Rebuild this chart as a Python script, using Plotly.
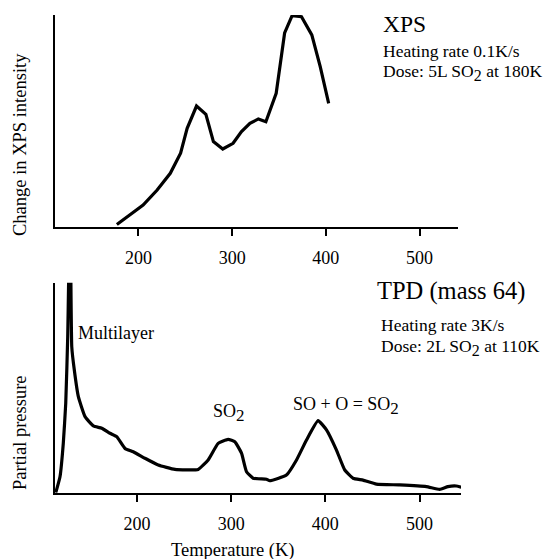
import plotly.graph_objects as go

W, H = 556, 559

# ---- data: XPS (top) ----
xps_temp = [177, 191, 205, 220, 234, 245, 252, 262, 272, 280, 290, 301, 310, 319, 328, 336, 347, 356, 364, 374, 385, 394, 403]
xps_val = [1, 5.5, 10.2, 17.3, 25.2, 34.7, 46.5, 57, 53.1, 40.2, 36.7, 39.4, 44.9, 48.8, 50.9, 49.6, 63, 91.5, 99.7, 99.2, 90.6, 75.6, 58.3]

# ---- data: TPD mass 64 (bottom) ----
tpd_temp = [113.8, 118.3, 121.8, 124.4, 126.5, 129, 130.8, 133.5, 137.8, 144.9, 153.7, 162.6, 171.4, 178.5,
            187.3, 196.1, 208.5, 222.6, 240.3, 265, 275.6, 286.2, 296.8, 303.9, 311, 316.3, 323.3, 337.5,
            341, 358.7, 369.4, 380, 392.3, 401.2, 411.8, 420.6, 429.4, 440, 454.2, 478.9, 507.2, 521.3,
            530.1, 539, 544.3]
tpd_val = [0, 7.6, 23.5, 42.6, 74.3, 140, 69.5, 58.4, 45.7, 36.2, 31.8, 30.7, 28.3, 26.7,
           21.1, 19.5, 16.4, 13.2, 11.1, 11.1, 15.6, 23.5, 25.4, 24.3, 18.8, 10, 6.9, 6.4,
           5.7, 8.4, 15.6, 25.1, 34.3, 29.9, 20.3, 10.8, 6.9, 6.0, 4.1, 3.7, 2.9, 1.6,
           2.9, 3.2, 2.6]

tick_vals = [200, 300, 400, 500]
tick_text = ["200", "300", "400", "500"]

FONT = "Liberation Serif"


def px_x(p):
    return p / W


def px_y(p):
    return 1 - p / H


def sub2(size):
    return '<sub><span style="font-size:%dpx">2</span></sub>' % size


fig = go.Figure()
fig.add_trace(go.Scatter(x=xps_temp, y=xps_val, mode="lines", xaxis="x", yaxis="y",
                         line=dict(color="black", width=3.2), showlegend=False, hoverinfo="skip"))
fig.add_trace(go.Scatter(x=tpd_temp, y=tpd_val, mode="lines", xaxis="x2", yaxis="y2",
                         line=dict(color="black", width=3.2, shape="spline", smoothing=0.4),
                         showlegend=False, hoverinfo="skip"))

xaxis_common = dict(showline=True, linecolor="black", linewidth=1.5, ticks="outside",
                    tickvals=tick_vals, ticktext=tick_text, ticklen=8, tickwidth=1.5,
                    tickcolor="black", showgrid=False, zeroline=False,
                    tickfont=dict(family=FONT, size=18, color="black"), ticklabelstandoff=6)
yaxis_common = dict(showline=True, linecolor="black", linewidth=1.5, ticks="",
                    showticklabels=False, showgrid=False, zeroline=False)

fig.update_layout(
    width=W, height=H,
    margin=dict(l=0, r=0, t=0, b=0),
    paper_bgcolor="white", plot_bgcolor="white",
    font=dict(family=FONT, color="black"),
    xaxis=dict(domain=[px_x(55), px_x(458)], range=[111, 541], anchor="y", **xaxis_common),
    yaxis=dict(domain=[px_y(226.7), px_y(15)], range=[0, 100], anchor="x", **yaxis_common),
    xaxis2=dict(domain=[px_x(55), px_x(461)], range=[113, 544], anchor="y2", **xaxis_common),
    yaxis2=dict(domain=[px_y(492.7), px_y(282.7)], range=[0, 100], anchor="x2", **yaxis_common),
)


def ann(text, x, y, size, xanchor="left", yanchor="middle", angle=0):
    fig.add_annotation(text=text, x=px_x(x), y=px_y(y), xref="paper", yref="paper",
                       xanchor=xanchor, yanchor=yanchor, showarrow=False, textangle=angle,
                       font=dict(family=FONT, size=size, color="black"))


ann("XPS", 381, 24, 23.5)
ann("Heating rate 0.1K/s", 381, 51, 17.5)
ann("Dose: 5L SO" + sub2(16) + " at 180K", 381, 73, 17.5)

ann("TPD (mass 64)", 375, 291, 24.5)
ann("Heating rate 3K/s", 379, 325, 17.5)
ann("Dose: 2L SO" + sub2(16) + " at 110K", 379, 347, 17.5)

ann("Multilayer", 76, 333, 18)
ann("SO" + sub2(17), 211, 413, 18)
ann("SO + O = SO" + sub2(17), 291, 406, 18)

ann("Change in XPS intensity", 20, 145, 18.5, xanchor="center", angle=-90)
ann("Partial pressure", 20, 433, 18.5, xanchor="center", angle=-90)
ann("Temperature (K)", 233, 550, 18.5, xanchor="center")

fig.write_html("out.html")
